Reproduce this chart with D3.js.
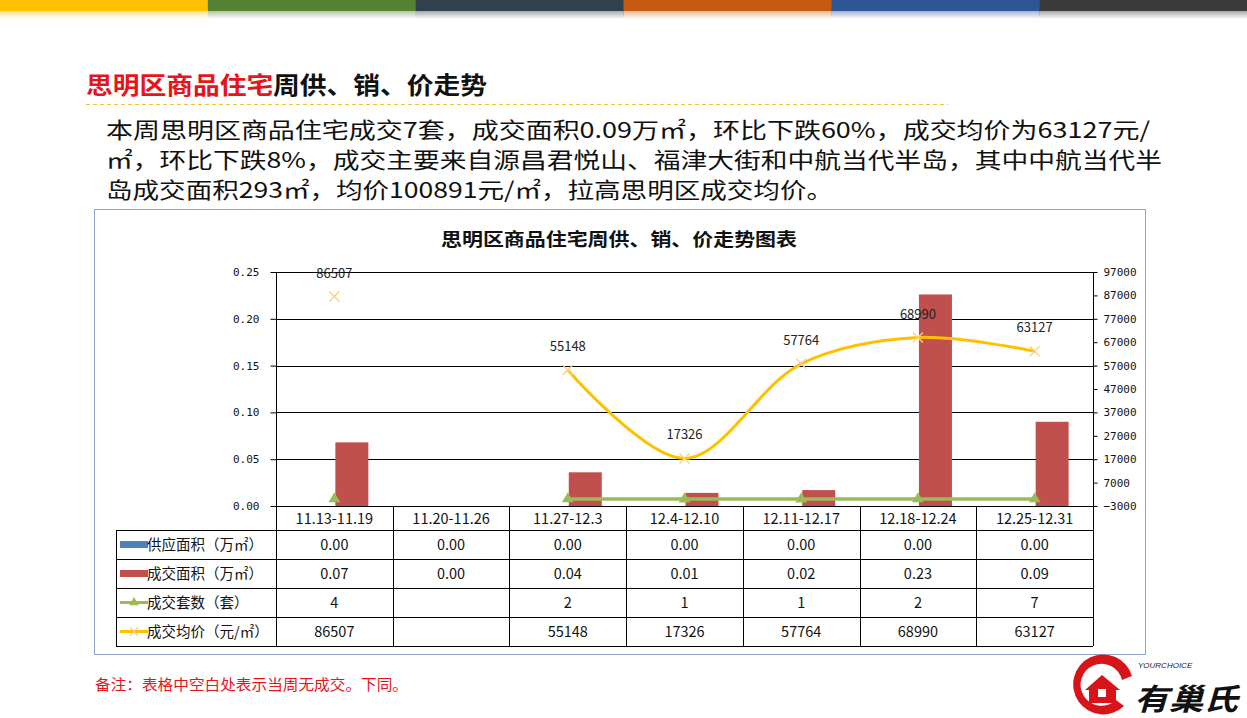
<!DOCTYPE html>
<html><head><meta charset="utf-8">
<script src="https://cdn.jsdelivr.net/npm/d3@7"></script>
<style>
html,body{margin:0;padding:0;background:#fff;}
svg{display:block;font-family:"Noto Sans CJK SC","Microsoft YaHei",sans-serif;}
</style></head>
<body>
<svg id="c" width="1247" height="718"></svg>
<script>
// ---- data ----
const categories = ["11.13-11.19","11.20-11.26","11.27-12.3","12.4-12.10","12.11-12.17","12.18-12.24","12.25-12.31"];
const supplyArea = [0,0,0,0,0,0,0];
const dealArea = [0.068,0,0.036,0.014,0.017,0.226,0.090];
const dealCount = [4,null,2,1,1,2,7];
const avgPrice = [86507,null,55148,17326,57764,68990,63127];
const leftTicks = [0,0.05,0.10,0.15,0.20,0.25];
const rightTicks = [-3000,7000,17000,27000,37000,47000,57000,67000,77000,87000,97000];
const seriesNames = ["供应面积（万㎡）","成交面积（万㎡）","成交套数（套）","成交均价（元/㎡）"];
const topColors = ["#FFC000","#548235","#323F4F","#C55A11","#2F5597","#3A3A3A"];

const svg = d3.select("#c");

// ---- top color strip ----
const defs = svg.append("defs");
topColors.forEach((c,i)=>{
  const g = defs.append("linearGradient").attr("id","fade"+i).attr("x1",0).attr("x2",0).attr("y1",0).attr("y2",1);
  g.append("stop").attr("offset","0%").attr("stop-color",c).attr("stop-opacity",0.45);
  g.append("stop").attr("offset","100%").attr("stop-color",c).attr("stop-opacity",0);
});
const segW = 1247/6;
topColors.forEach((c,i)=>{
  svg.append("rect").attr("x",i*segW).attr("y",0).attr("width",segW+0.5).attr("height",11).attr("fill",c);
  svg.append("rect").attr("x",i*segW).attr("y",11).attr("width",segW+0.5).attr("height",8).attr("fill","url(#fade"+i+")");
});

// ---- heading ----
const h = svg.append("text").attr("x",86).attr("y",94).attr("font-size",24).attr("font-weight","bold")
  .attr("textLength",401).attr("lengthAdjust","spacingAndGlyphs");
h.append("tspan").attr("fill","#E8141B").text("思明区商品住宅");
h.append("tspan").attr("fill","#111").text("周供、销、价走势");
svg.append("line").attr("x1",86).attr("x2",948).attr("y1",104.5).attr("y2",104.5)
  .attr("stroke","#F2C037").attr("stroke-width",1).attr("stroke-dasharray","4,3");

const para = [
  {t:"本周思明区商品住宅成交7套，成交面积0.09万㎡，环比下跌60%，成交均价为63127元/", y:138, w:1044},
  {t:"㎡，环比下跌8%，成交主要来自源昌君悦山、福津大街和中航当代半岛，其中中航当代半", y:168, w:1056},
  {t:"岛成交面积293㎡，均价100891元/㎡，拉高思明区成交均价。", y:198, w:727}
];
para.forEach(p=>{
  svg.append("text").attr("x",106).attr("y",p.y).attr("font-size",22).attr("fill","#111")
    .attr("textLength",p.w).attr("lengthAdjust","spacingAndGlyphs").text(p.t);
});

// ---- chart box ----
svg.append("rect").attr("x",94.5).attr("y",209.5).attr("width",1051).attr("height",445)
  .attr("fill","#fff").attr("stroke","#8FA6C6").attr("stroke-width",1);
svg.append("text").attr("x",441).attr("y",246).attr("font-size",18)
  .attr("font-weight","bold").attr("fill","#111").attr("textLength",356).attr("lengthAdjust","spacingAndGlyphs")
  .text("思明区商品住宅周供、销、价走势图表");

const x0 = 276, x1 = 1093, yTop = 272, yBot = 506;
const x = d3.scaleBand().domain(categories).range([x0,x1]);
const yL = d3.scaleLinear().domain([0,0.25]).range([yBot,yTop]);
const yR = d3.scaleLinear().domain([-3000,97000]).range([yBot,yTop]);
const bw = 33;

// gridlines
svg.append("g").selectAll("line").data(leftTicks.filter(d=>d>0)).join("line")
  .attr("x1",x0).attr("x2",x1).attr("y1",d=>Math.round(yL(d))+0.5).attr("y2",d=>Math.round(yL(d))+0.5)
  .attr("stroke","#000").attr("stroke-width",1);

// left axis
const gl = svg.append("g").attr("transform",`translate(${x0+0.5},0)`)
  .call(d3.axisLeft(yL).tickValues(leftTicks).tickFormat(d3.format(".2f")).tickSize(6).tickPadding(11));
gl.selectAll("text").attr("font-family","'DejaVu Sans Mono',monospace").attr("font-size",11).attr("fill","#111");
gl.selectAll("line").attr("stroke","#000");
gl.select(".domain").attr("stroke","#000").attr("d",`M0,${yTop}V${yBot}`);

// right axis
const gr = svg.append("g").attr("transform",`translate(${x1+0.5},0)`)
  .call(d3.axisRight(yR).tickValues(rightTicks).tickFormat(d3.format("d")).tickSize(4).tickPadding(6));
gr.selectAll("text").attr("font-family","'DejaVu Sans Mono',monospace").attr("font-size",11).attr("fill","#111");
gr.selectAll("line").attr("stroke","#000");
gr.select(".domain").attr("stroke","#000").attr("d",`M0,${yTop}V${yBot+6}`);

// bars
const cx = d => x(d) + x.bandwidth()/2;
svg.append("g").selectAll("rect").data(categories).join("rect")
  .attr("x",d=>cx(d)-bw).attr("width",bw)
  .attr("y",(d,i)=>yL(supplyArea[i])).attr("height",(d,i)=>yBot-yL(supplyArea[i]))
  .attr("fill","#4F81BD");
svg.append("g").selectAll("rect").data(categories).join("rect")
  .attr("x",d=>cx(d)+1).attr("width",bw)
  .attr("y",(d,i)=>yL(dealArea[i])).attr("height",(d,i)=>yBot-yL(dealArea[i]))
  .attr("fill","#C0504D");

// count line (right axis)
const cntPts = categories.map((c,i)=>({x:cx(c),v:dealCount[i]}));
svg.append("path").datum(cntPts)
  .attr("d",d3.line().defined(d=>d.v!=null).x(d=>d.x).y(d=>yR(d.v)))
  .attr("fill","none").attr("stroke","#9BBB59").attr("stroke-width",3.5);
svg.append("g").selectAll("path").data(cntPts.filter(d=>d.v!=null)).join("path")
  .attr("transform",d=>`translate(${d.x},${yR(d.v)})`)
  .attr("d",d3.symbol(d3.symbolTriangle,60)).attr("fill","#9BBB59");

// price line (right axis)
const prPts = categories.map((c,i)=>({x:cx(c),v:avgPrice[i]}));
svg.append("path").datum(prPts)
  .attr("d",d3.line().defined(d=>d.v!=null).x(d=>d.x).y(d=>yR(d.v)).curve(d3.curveCatmullRom.alpha(0.5)))
  .attr("fill","none").attr("stroke","#FFC000").attr("stroke-width",3);
const mk = svg.append("g").selectAll("g").data(prPts.filter(d=>d.v!=null)).join("g")
  .attr("transform",d=>`translate(${d.x},${yR(d.v)})`);
mk.append("path").attr("d","M-5,-5L5,5M-5,5L5,-5").attr("stroke","#F7D27A").attr("stroke-width",1.3);
svg.append("g").selectAll("text").data(prPts.filter(d=>d.v!=null)).join("text")
  .attr("x",d=>d.x).attr("y",d=>yR(d.v)-19).attr("text-anchor","middle")
  .attr("font-size",13).attr("fill","#222").text(d=>d.v);

// ---- data table ----
const tblLeft = 116, rowH = 29, hdrTop = yBot, hdrBot = 530;
const rowsTop = [530,559,588,617];
const tbl = svg.append("g").attr("stroke","#000").attr("stroke-width",1);
tbl.append("line").attr("x1",x0).attr("x2",x1).attr("y1",hdrTop+0.5).attr("y2",hdrTop+0.5);
rowsTop.concat([rowsTop[3]+rowH]).forEach(y=>{
  tbl.append("line").attr("x1",tblLeft).attr("x2",x1).attr("y1",y+0.5).attr("y2",y+0.5);
});
tbl.append("line").attr("x1",tblLeft+0.5).attr("x2",tblLeft+0.5).attr("y1",hdrBot).attr("y2",rowsTop[3]+rowH);
x.domain().concat([null]).forEach(c=>{
  const xx = c==null ? x1 : x(c);
  tbl.append("line").attr("x1",Math.round(xx)+0.5).attr("x2",Math.round(xx)+0.5).attr("y1",hdrTop).attr("y2",rowsTop[3]+rowH);
});
svg.append("g").selectAll("text").data(categories).join("text")
  .attr("x",d=>cx(d)).attr("y",hdrTop+18).attr("text-anchor","middle").attr("font-size",14.5).attr("fill","#111").text(d=>d);
const rowVals = [
  supplyArea.map(v=>v.toFixed(2)),
  dealArea.map(v=>v.toFixed(2)),
  dealCount.map(v=>v==null?"":String(v)),
  avgPrice.map(v=>v==null?"":String(v))
];
rowVals.forEach((vals,r)=>{
  svg.append("g").selectAll("text").data(vals).join("text")
    .attr("x",(d,i)=>cx(categories[i])).attr("y",rowsTop[r]+20).attr("text-anchor","middle")
    .attr("font-size",14.5).attr("fill","#111").text(d=>d);
});
const ky = r => rowsTop[r]+rowH/2;
svg.append("rect").attr("x",120).attr("y",ky(0)-3.5).attr("width",28).attr("height",7).attr("fill","#4F81BD");
svg.append("rect").attr("x",120).attr("y",ky(1)-3.5).attr("width",28).attr("height",7).attr("fill","#C0504D");
svg.append("line").attr("x1",120).attr("x2",148).attr("y1",ky(2)).attr("y2",ky(2)).attr("stroke","#9BBB59").attr("stroke-width",3);
svg.append("path").attr("transform",`translate(134,${ky(2)})`).attr("d",d3.symbol(d3.symbolTriangle,40)).attr("fill","#9BBB59");
svg.append("line").attr("x1",120).attr("x2",148).attr("y1",ky(3)).attr("y2",ky(3)).attr("stroke","#FFC000").attr("stroke-width",3);
svg.append("path").attr("transform",`translate(134,${ky(3)})`).attr("d","M-4,-4L4,4M-4,4L4,-4").attr("stroke","#F7D27A").attr("stroke-width",1.3);
seriesNames.forEach((n,r)=>{
  svg.append("text").attr("x",147).attr("y",rowsTop[r]+20).attr("font-size",14.5).attr("fill","#111").text(n);
});

// ---- footnote ----
svg.append("text").attr("x",95).attr("y",690).attr("font-size",15).attr("fill","#E8141B")
  .attr("textLength",313).attr("lengthAdjust","spacingAndGlyphs")
  .text("备注：表格中空白处表示当周无成交。下同。");

// ---- logo ----
const logo = svg.append("g");
logo.append("path").attr("d","M1132,676 A30,30 0 1,0 1124,706 L1116,700 A21,21 0 1,1 1122,680 Z").attr("fill","#D7141A");
logo.append("path").attr("d","M1085,690 L1102,675 L1120,690 L1116,690 L1116,703 L1089,703 L1089,690 Z").attr("fill","#D7141A");
logo.append("rect").attr("x",1098).attr("y",689).attr("width",8).attr("height",8).attr("fill","#fff");
logo.append("text").attr("x",1138).attr("y",668).attr("font-size",8).attr("font-style","italic")
  .attr("font-family","'Liberation Sans',sans-serif").attr("fill","#222").text("YOURCHOICE");
logo.append("text").attr("x",1134).attr("y",710).attr("font-size",30).attr("font-weight","bold")
  .attr("font-style","italic").attr("fill","#111").attr("textLength",104).attr("lengthAdjust","spacingAndGlyphs").text("有巢氏");
</script>
</body></html>
